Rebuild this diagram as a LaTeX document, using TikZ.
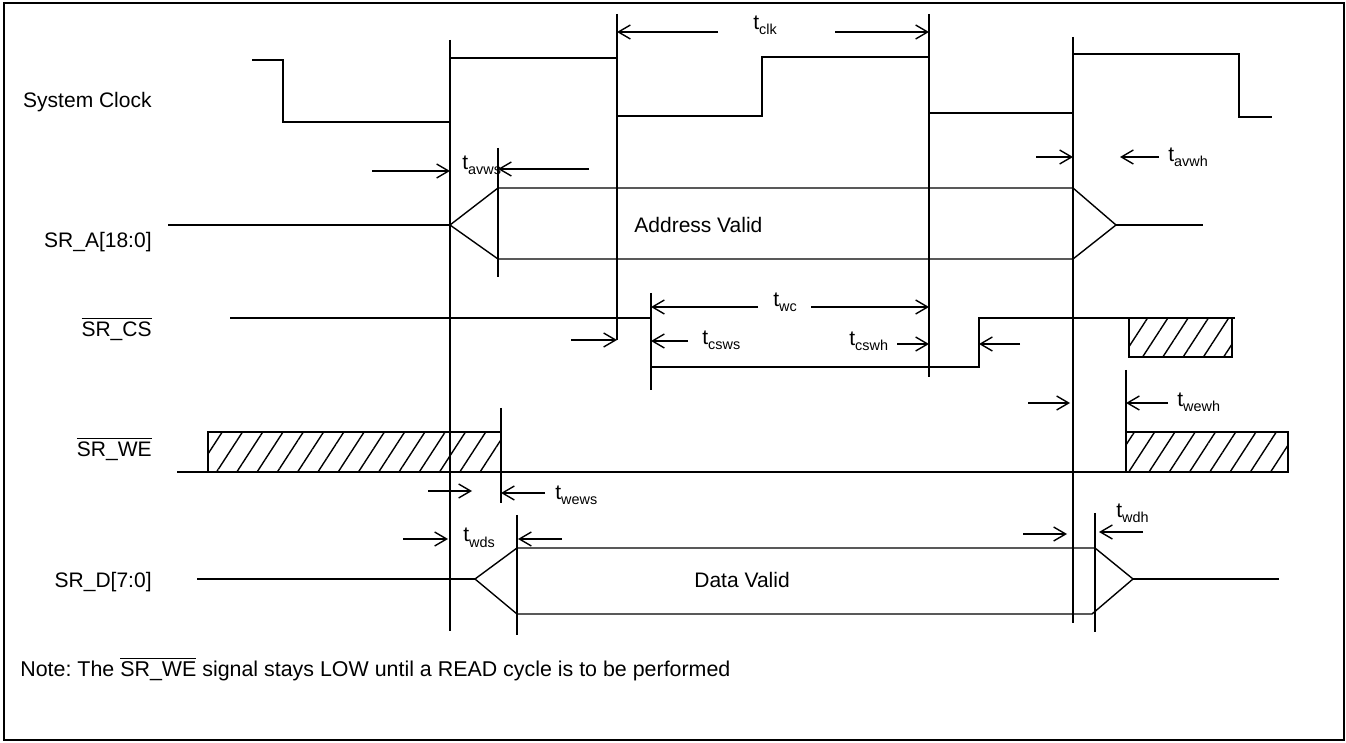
\documentclass[tikz,border=0pt]{standalone}
\usepackage{fontspec}
\setmainfont{Liberation Sans}
\usetikzlibrary{arrows.meta,patterns.meta}
\frenchspacing
\tikzset{%
  sig/.style     = {line width=0.7pt, line join=miter},
  bus/.style     = {line width=1.4pt},
  vline/.style   = {line width=0.7pt}, % time marks
  dim/.style     = {line width=0.7pt, -{Straight Barb[length=6pt,width=7pt]}},
  hatch/.style   = {draw, line width=0.7pt,
    pattern={Lines[angle=57,distance=8.5pt,line width=0.7pt]}},
  lbl/.style     = {font=\fontsize{10.5}{12}\selectfont, inner sep=0pt},
  signame/.style = {lbl, anchor=east},
  tlbl/.style    = {lbl, anchor=base west}
}
\newcommand{\tsub}[1]{t\raisebox{-2.5pt}{\fontsize{7.2}{8}\selectfont #1}}
\newcommand{\ovl}[1]{$\overline{\mbox{#1}}$}

\begin{document}
\begin{tikzpicture}[x=0.5pt, y=-0.5pt]
\useasboundingbox (0,0) rectangle (1346,743);
\draw[line width=1.3pt] (4,3) rectangle (1344,740);

% signal names
\node[signame] (clkname) at (152,102) {System Clock};
\node[signame] (aname) at (152,242) {SR\_A[18:0]};
\node[signame] (csname) at (152,329) {\ovl{SR\_CS}};
\node[signame] (wename) at (152,449) {\ovl{SR\_WE}};
\node[signame] (dname) at (152,582) {SR\_D[7:0]};

% time marks
\draw[vline] (450,40) -- (450,631);
\draw[vline] (617,14) -- (617,340);
\draw[vline] (929,14) -- (929,377);
\draw[vline] (1073,37) -- (1073,623);
\draw[vline] (498,148) -- (498,277);
\draw[vline] (501,408) -- (501,503);
\draw[vline] (517,515) -- (517,635);
\draw[vline] (651,293) -- (651,390);
\draw[vline] (1126,370) -- (1126,432);
\draw[vline] (1095,513) -- (1095,632);

% system clock
\draw[sig] (252,60) -- (283,60) -- (283,122) -- (450,122) -- (450,58)
  -- (617,58) -- (617,116) -- (762,116) -- (762,57) -- (929,57)
  -- (929,113) -- (1073,113) -- (1073,54) -- (1239,54) -- (1239,117)
  -- (1272,117);

% address
\draw[bus] (168,225) -- (450,225);
\draw[sig] (450,225) -- (498,188) -- (1073,188) -- (1116,225)
  -- (1073,259) -- (498,259) -- cycle;
\draw[bus] (1116,225) -- (1203,225);
\node[lbl, anchor=west] (avalid) at (634,225) {Address Valid};

% chip select
\draw[sig] (230,318) -- (651,318) -- (651,367) -- (979,367) -- (979,318)
  -- (1235,318);
\draw[hatch] (1129,318) rectangle (1232,357);

% write enable
\draw[sig] (177,472) -- (1126,472);
\draw[hatch] (208,432) rectangle (501,472);
\draw[hatch] (1126,432) rectangle (1288,472);

% data
\draw[bus] (197,579) -- (475,579);
\draw[sig] (475,579) -- (517,548) -- (1095,548) -- (1133,579)
  -- (1092,614) -- (517,614) -- cycle;
\draw[bus] (1133,579) -- (1279,579);
\node[lbl, anchor=west] (dvalid) at (694,580) {Data Valid};

% timing parameters
\draw[dim] (718,32) -- (617,32);
\draw[dim] (835,32) -- (929,32);
\node[tlbl] (tclk) at (753,30) {\tsub{clk}};

\draw[dim] (372,171) -- (450,171);
\draw[dim] (589,169) -- (498,169);
\node[tlbl] (tavws) at (462,170) {\tsub{avws}};

\draw[dim] (1036,157) -- (1073,157);
\draw[dim] (1159,157) -- (1120,157);
\node[tlbl] (tavwh) at (1168,162) {\tsub{avwh}};

\draw[dim] (758,307) -- (651,307);
\draw[dim] (811,307) -- (929,307);
\node[tlbl] (twc) at (773,307) {\tsub{wc}};

\draw[dim] (688,341) -- (651,341);
\node[tlbl] (tcsws) at (702,345) {\tsub{csws}};
\draw[dim] (897,344) -- (929,344);
\node[tlbl] (tcswh) at (849,346) {\tsub{cswh}};
\draw[dim] (571,340) -- (617,340);
\draw[dim] (1020,344) -- (979,344);

\draw[dim] (428,491) -- (472,491);
\draw[dim] (545,493) -- (501,493);
\node[tlbl] (twews) at (555,500) {\tsub{wews}};

\draw[dim] (1028,403) -- (1070,403);
\draw[dim] (1168,403) -- (1126,403);
\node[tlbl] (twewh) at (1177,407) {\tsub{wewh}};

\draw[dim] (403,539) -- (448,539);
\draw[dim] (562,539) -- (518,539);
\node[tlbl] (twds) at (463,542) {\tsub{wds}};

\draw[dim] (1023,534) -- (1067,534);
\draw[dim] (1143,532) -- (1099,532);
\node[tlbl] (twdh) at (1116,517) {\tsub{wdh}};

% note
\node[lbl, anchor=west, font=\fontsize{10.7}{12}\selectfont] (note) at (20,669)
  {Note: The \ovl{SR\_WE} signal stays LOW until a READ cycle is to be performed};
\end{tikzpicture}
\end{document}
